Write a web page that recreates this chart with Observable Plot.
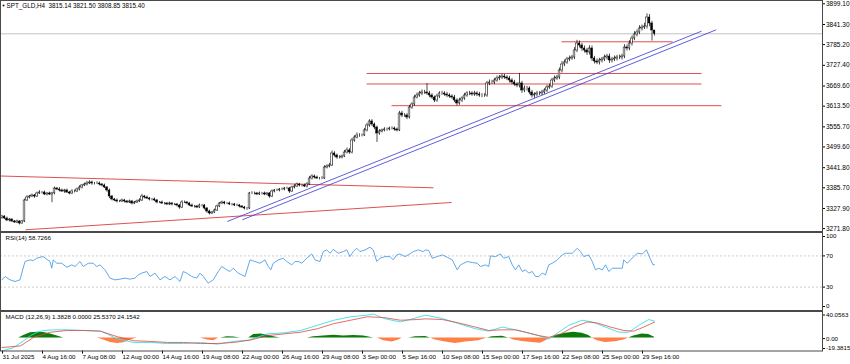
<!DOCTYPE html>
<html><head><meta charset="utf-8">
<script src="https://cdn.jsdelivr.net/npm/d3@7"></script>
<script src="https://cdn.jsdelivr.net/npm/@observablehq/plot@0.6"></script>
<style>
body{margin:0;background:#fff;}
#chart{position:relative;width:850px;height:364px;overflow:hidden;background:#fff;}
#chart svg{position:absolute;left:0;overflow:visible;}
</style></head><body><div id="chart"></div>
<script>
// ---- data: H4 closes, bar 0 = 31 Jul 2025 00:00 ----
const closes = [
3305.6,3300.0,3294.5,3297.2,3291.7,3288.9,3291.7,3286.1,3291.7,3350.3,
3358.6,3361.4,3364.2,3361.4,3369.8,3372.6,3372.6,3367.0,3369.8,3367.0,
3370.0,3383.7,3380.9,3378.2,3375.4,3378.2,3372.6,3369.8,3375.4,3375.4,
3380.9,3386.5,3392.1,3394.9,3397.7,3400.5,3397.7,3397.7,3397.7,3394.9,
3392.1,3386.5,3378.2,3361.4,3353.1,3350.3,3347.5,3347.5,3350.3,3347.5,
3344.7,3347.5,3341.9,3344.7,3347.5,3350.3,3361.4,3358.6,3355.8,3353.1,
3353.1,3350.3,3344.7,3344.7,3341.9,3341.9,3339.1,3341.9,3339.1,3339.1,
3336.3,3330.7,3344.7,3344.7,3341.9,3336.3,3333.5,3333.5,3330.7,3336.3,
3336.3,3327.9,3319.6,3314.0,3316.8,3322.4,3333.5,3341.9,3344.7,3341.9,
3341.9,3339.1,3339.1,3336.3,3336.3,3333.5,3330.7,3327.9,3327.9,3369.8,
3369.8,3369.8,3367.0,3369.8,3369.8,3367.0,3369.8,3361.4,3375.4,3378.2,
3378.2,3380.9,3380.9,3383.7,3383.7,3375.4,3386.5,3389.3,3394.9,3392.1,
3392.1,3389.3,3394.9,3411.6,3417.2,3414.4,3411.6,3411.6,3411.6,3442.3,
3445.1,3447.9,3481.4,3475.8,3470.2,3470.2,3473.0,3484.2,3489.8,3484.2,
3517.7,3526.0,3531.6,3531.6,3531.6,3545.6,3559.5,3570.7,3562.3,3553.9,
3537.2,3542.8,3545.6,3548.4,3548.4,3551.1,3551.1,3548.4,3545.6,3593.0,
3587.4,3587.4,3581.8,3609.7,3618.1,3637.6,3643.2,3648.8,3651.6,3651.6,
3648.8,3643.2,3637.6,3629.3,3640.4,3648.8,3648.8,3646.0,3643.2,3640.4,
3637.6,3629.3,3620.9,3629.3,3634.8,3643.2,3648.8,3648.8,3646.0,3648.8,
3646.0,3643.2,3643.2,3643.2,3676.7,3679.5,3679.5,3685.1,3690.6,3693.4,
3696.2,3693.4,3690.6,3685.1,3679.5,3673.9,3671.1,3676.7,3657.2,3662.7,
3662.7,3651.6,3643.2,3646.0,3648.8,3648.8,3651.6,3657.2,3665.5,3668.3,
3685.1,3690.6,3693.4,3713.0,3729.7,3735.3,3743.6,3746.4,3749.2,3768.8,
3788.3,3782.7,3774.3,3768.8,3763.2,3774.3,3746.4,3738.1,3735.3,3740.9,
3743.6,3749.2,3752.0,3740.9,3743.6,3746.4,3749.2,3749.2,3752.0,3777.1,
3774.3,3788.3,3802.2,3813.4,3819.0,3830.1,3832.9,3835.7,3860.8,3844.1,
3824.6,3815.4
];
const firstOpen = 3302.0;
// wick lengths (USD) above the body top and below the body bottom, per bar
const upperWicks = [
3,2,4,3,2,3,4,2,3,4, 5,3,4,3,4,5,3,4,3,4, 3,4,3,5,4,3,4,3,5,4, 4,5,3,4,6,5,4,3,5,4,
3,4,3,4,3,3,4,3,4,3, 3,4,3,3,4,5,6,3,4,3, 3,4,3,3,4,3,3,4,3,3, 3,3,5,4,3,3,4,3,3,4,
3,3,3,4,3,4,4,3,4,3, 3,4,3,3,4,3,3,3,3,3, 5,4,3,4,3,4,3,3,4,3, 4,3,4,3,4,3,4,5,4,3,
3,4,5,6,5,4,4,3,5,5, 5,6,7,5,4,5,4,6,7,5, 6,5,7,5,4,6,6,5,5,4, 4,5,4,5,4,4,5,4,4,6,
6,5,5,6,5,6,7,6,7,6, 25,6,5,4,6,5,6,5,6,5, 5,6,5,6,5,6,5,6,5,6, 5,6,5,5,6,7,6,6,7,6,
7,6,5,6,5,6,5,28,6,7, 6,5,6,5,6,5,6,5,6,7, 6,7,6,7,8,7,6,7,6,8, 9,7,6,7,6,8,7,6,7,6,
6,7,6,7,6,7,6,7,6,8, 7,8,7,8,7,8,7,9,10,8, 6,0
];
const lowerWicks = [
4,3,3,4,3,2,3,4,2,3, 3,4,3,5,3,3,4,3,4,3, 23,4,3,4,3,5,3,4,3,4, 3,4,4,3,4,3,5,4,3,4,
4,3,5,6,4,3,4,3,3,4, 3,3,4,3,3,3,3,4,3,4, 4,3,4,3,3,4,3,3,4,3, 4,5,3,3,4,3,3,4,3,3,
4,4,5,4,3,3,3,3,3,4, 3,3,4,3,3,4,3,4,5,3, 3,4,3,3,4,3,4,5,3,4, 3,4,3,4,3,5,3,4,3,4,
4,3,4,3,4,4,3,4,3,3, 4,4,3,5,5,4,4,3,4,5, 4,5,4,5,4,3,4,5,6,6, 25,5,4,4,5,4,4,5,4,3,
6,5,6,4,5,5,4,5,6,5, 5,6,5,6,5,6,5,5,6,5, 5,6,7,5,6,5,5,6,5,5, 6,5,6,5,5,6,5,6,5,6,
6,5,6,7,6,5,6,7,8,6, 7,6,7,8,7,6,6,5,6,5, 5,6,5,6,7,6,5,6,5,6, 6,7,8,7,8,7,8,7,6,7,
7,6,7,8,7,6,7,6,7,6, 7,6,7,6,7,6,7,6,7,9, 29.6,6.5
];

const priceTicks = [3899.10,3841.30,3785.20,3727.40,3669.60,3613.50,3555.70,3499.60,3441.80,3385.70,3327.90,3271.80];
const lastPrice = 3815.40;
const titleText = "SPT_GLD,H4  3815.14 3821.50 3808.85 3815.40";

// trend lines: [bar1, price1, bar2, price2]
const redLines = [
  [-0.6,3418.6,172.6,3385.7],
  [9.4,3268.5,179.8,3344.7],
  [145.8,3704.6,279.8,3704.6],
  [145.8,3675.3,279.8,3675.3],
  [155.8,3614.8,287.8,3614.8],
  [223.8,3793.0,268.2,3793.0]
];
const blueLines = [
  [90.1,3291.7,279.8,3822.6],
  [96.1,3296.4,285.7,3826.5]
];

// RSI(14): [bar, value]
const rsiPts = [
[0,39.3],[1.2,43.6],[3.2,39.3],[5.2,37.2],[7.2,39.3],[7.9,47.9],[9.2,62.8],[11.2,64.9],[12.5,64.0],[13.9,67.0],
[15.2,68.3],[16.5,69.1],[17.9,65.7],[19.2,62.8],[19.9,54.2],[20.5,64.9],[21.9,60.6],[23.9,60.6],[25.9,55.5],[27.9,58.5],
[29.2,56.4],[31.2,62.8],[32.5,56.4],[34.5,60.6],[36.5,60.6],[37.9,56.4],[39.2,58.5],[41.2,52.1],[43.2,41.5],[45.2,39.3],
[47.2,40.2],[49.2,41.5],[51.2,40.2],[53.2,41.5],[54.5,45.7],[55.9,47.9],[57.9,50.0],[59.2,43.6],[61.2,47.9],[63.2,39.3],
[65.2,43.6],[67.2,39.3],[69.2,43.6],[71.2,37.2],[72.5,50.0],[73.9,47.9],[75.9,43.6],[77.9,41.5],[79.2,47.9],[80.5,43.6],
[82.5,35.1],[84.5,39.3],[86.5,50.0],[87.9,56.4],[89.9,52.1],[91.2,50.0],[92.5,54.2],[94.5,47.9],[95.9,45.7],[97.2,43.6],
[99.2,64.9],[101.2,62.8],[103.2,60.6],[105.2,64.9],[106.5,56.4],[107.5,52.1],[108.5,60.6],[110.5,64.9],[112.5,67.0],[113.9,62.8],
[115.9,58.5],[117.2,62.8],[118.5,62.8],[119.9,60.6],[121.9,67.0],[123.9,72.5],[125.2,64.9],[127.2,62.8],[128.5,75.5],[129.9,77.7],
[131.2,73.4],[132.5,78.5],[134.5,73.4],[136.5,75.5],[137.9,77.7],[139.2,69.1],[140.5,75.5],[141.9,79.8],[143.2,75.5],[145.2,77.7],
[147.2,81.1],[148.5,77.7],[149.9,62.8],[151.2,67.0],[153.2,69.1],[155.2,69.1],[156.5,64.9],[157.9,71.3],[159.2,72.5],[161.2,69.1],
[162.5,71.3],[164.5,75.5],[166.5,77.7],[168.5,75.5],[169.4,77.7],[170.7,76.8],[172.1,67.0],[174.1,69.1],[176.1,71.3],[178.1,68.3],
[180.1,64.9],[182.1,52.1],[183.4,58.5],[184.7,60.6],[186.1,62.8],[188.1,61.5],[190.1,60.6],[191.4,56.4],[193.4,58.5],[194.7,56.4],
[195.4,70.0],[197.4,69.1],[199.4,72.5],[200.7,67.0],[202.7,69.1],[204.1,58.5],[205.4,52.1],[206.7,58.5],[208.1,50.0],[209.4,52.1],
[210.7,47.9],[212.1,50.0],[213.4,43.6],[214.7,43.6],[216.1,47.9],[217.4,45.7],[218.7,58.5],[220.1,60.6],[222.1,64.9],[224.1,71.3],
[225.4,73.4],[228.1,73.4],[230.1,79.8],[231.4,75.5],[232.7,69.1],[234.7,71.3],[236.1,62.8],[237.4,52.1],[238.7,54.2],[240.1,52.1],
[241.4,58.5],[242.7,50.0],[244.1,54.2],[246.1,54.2],[248.1,54.2],[248.7,64.9],[250.1,60.6],[251.4,64.9],[252.7,69.1],[254.1,73.4],
[256.1,72.5],[257.8,77.7],[259.2,67.0],[260.4,58.5],[261,58.7266]
];
const rsiLabel = "RSI(14) 58.7266";
const rsiTicks = [100,70,30,0];
const rsiLevels = [70,30];

// MACD(12,26,9): [bar, value]
const macdMain = [
[0,-19.4],[4.7,-14.2],[8.7,-3.9],[11.4,3.8],[14.1,8.9],[16.7,11.5],[20.7,12.5],[26.1,12.5],[32.7,11.5],[39.4,10.5],
[42.1,6.3],[46.1,-1.4],[52.7,-6.5],[59.4,-6.5],[66.1,-8.1],[72.7,-8.1],[79.4,-6.5],[86.1,-9.1],[92.7,-5.0],[98.7,-2.9],
[106.1,6.3],[112.7,7.9],[119.4,11.5],[126.1,19.2],[132.7,26.9],[139.4,32.1],[146.1,34.6],[148.7,36.2],[152.7,29.5],[159.4,24.3],
[166.1,31.0],[169.4,34.6],[176.1,29.5],[182.7,21.8],[189.4,14.1],[194.7,10.5],[200.1,16.6],[205.4,12.5],[209.4,8.9],[214.7,3.8],
[218.7,-1.4],[222.7,8.9],[226.7,19.2],[232.1,26.9],[236.1,24.3],[241.4,16.6],[246.7,8.9],[250.7,8.9],[254.7,19.2],[258.7,28.0],
[261,25.537]
];
const macdSignal = [
[0,-14.2],[7.4,-11.7],[12.7,1.2],[19.4,8.9],[26.1,11.5],[32.7,11.5],[39.4,10.5],[46.1,2.2],[52.7,-3.9],[59.4,-5.0],
[66.1,-6.5],[72.7,-6.5],[79.4,-8.1],[86.1,-8.1],[92.7,-6.5],[99.4,-2.9],[106.1,3.8],[112.7,6.3],[119.4,8.9],[126.1,14.1],
[132.7,21.8],[139.4,26.9],[146.1,32.1],[152.7,31.0],[159.4,26.9],[166.1,28.0],[169.4,29.0],[176.1,28.0],[182.7,22.8],[189.4,16.6],
[194.7,11.5],[200.1,12.5],[205.4,12.5],[209.4,8.9],[214.7,3.8],[218.7,1.2],[223.4,6.3],[228.7,16.6],[234.1,24.3],[238.1,22.8],
[243.4,16.6],[248.7,11.5],[252.7,10.5],[256.7,16.6],[261,24.1542]
];
const macdHist = [
[0,0],[6.7,0],[8.7,3.8],[11.4,7.9],[14.1,8.9],[16.7,8.4],[19.4,6.3],[22.1,3.2],[24.7,0],
[38.1,0],[40.7,-2.9],[43.4,-6.5],[46.1,-8.1],[48.7,-7.1],[51.4,-2.9],[54.1,0],
[79.4,0],[82.1,-2.9],[84.7,-3.9],[86.7,0],[87.4,0],[90.1,2.2],[92.7,1.7],[95.4,0],
[98.7,0],[100.7,5.3],[103.4,6.3],[106.1,4.8],[108.7,2.2],[111.4,0],
[122.1,0],[124.7,2.2],[128.7,3.2],[132.7,4.3],[136.7,3.2],[140.7,3.8],[144.7,3.2],[148.7,0],
[150.1,0],[152.7,-3.9],[156.1,-6.0],[158.7,-2.9],[160.1,0],
[162.7,0],[165.4,2.2],[169.4,2.4],[171.4,0],
[173.4,-2.9],[177.4,-6.0],[181.4,-8.1],[185.4,-6.0],[190.7,-3.9],[194.1,0],
[196.1,2.2],[200.1,2.7],[202.7,0],
[204.7,-2.9],[208.1,-5.0],[212.1,-6.5],[215.4,-7.6],[218.1,-2.9],[219.4,0],
[222.1,4.3],[225.4,7.4],[228.7,8.9],[232.1,7.4],[234.7,3.8],[236.1,0],
[238.1,-3.9],[241.4,-6.5],[245.4,-5.5],[248.7,-2.9],[250.7,0],
[252.7,3.2],[256.1,6.3],[258.7,5.3],[261,1.3828]
];
const macdLabel = "MACD (12,26,9) 1.3828 0.0000 25.5370 24.1542";
const macdTicks = [40.0563, 0, -19.3815];

// time axis
const timeTickBars = [0,16,32,48,64,80,96,112,128,144,160,176,192,208,224,240,256];
const timeTickLabels = ["31 Jul 2025","4 Aug 16:00","7 Aug 08:00","12 Aug 00:00","14 Aug 16:00","19 Aug 08:00","22 Aug 00:00","26 Aug 16:00","29 Aug 08:00","3 Sep 00:00","5 Sep 16:00","10 Sep 08:00","15 Sep 00:00","17 Sep 16:00","22 Sep 08:00","25 Sep 00:00","29 Sep 16:00"];

// ---- build ----
const candles = closes.map((c, i) => {
  const o = i === 0 ? firstOpen : closes[i - 1];
  return {i, o, c, h: Math.max(o, c) + upperWicks[i], l: Math.min(o, c) - lowerWicks[i]};
});
const seg = a => ({b1: a[0], p1: a[1], b2: a[2], p2: a[3]});
const pt = a => ({b: a[0], v: a[1]});
const labelOf = new Map(timeTickBars.map((b, k) => [b, timeTickLabels[k]]));

const xDomain = [-0.6, 328.2];
const FONT = "'Liberation Sans', Arial, sans-serif";
const FRAME = "#4a4a4a";
const chart = document.getElementById("chart");
function place(svg, top) { svg.style.top = top + "px"; chart.appendChild(svg); return svg; }
const ax = {anchor: "right", tickSize: 2, tickPadding: 1.5, label: null};

const main = Plot.plot({
  width: 850, height: 231, marginLeft: 0, marginRight: 28, marginTop: 0, marginBottom: 0,
  style: {fontFamily: FONT, fontSize: "6.5px", background: "transparent", overflow: "visible", color: "#000"},
  x: {domain: xDomain, axis: null},
  y: {domain: [3263.77, 3908.26], axis: null},
  marks: [
    Plot.ruleY([lastPrice], {stroke: "#c4c4c4", strokeWidth: 1}),
    Plot.link(redLines.map(seg), {x1: "b1", y1: "p1", x2: "b2", y2: "p2", stroke: "#dc3c3c", strokeWidth: 0.9}),
    Plot.link(blueLines.map(seg), {x1: "b1", y1: "p1", x2: "b2", y2: "p2", stroke: "#3636d2", strokeWidth: 0.8}),
    Plot.ruleX(candles, {x: "i", y1: "l", y2: "h", stroke: "#000", strokeWidth: 0.7}),
    Plot.rect(candles, {x1: d => d.i - 0.34, x2: d => d.i + 0.34, y1: "o", y2: "c",
      fill: d => d.c >= d.o ? "#fff" : "#000", stroke: "#000", strokeWidth: 0.5}),
    Plot.axisY(priceTicks, {...ax, tickFormat: d => d.toFixed(2)}),
    Plot.text([lastPrice], {y: d => d, frameAnchor: "right", textAnchor: "start", dx: 3.5, text: d => d.toFixed(2),
      fill: "#fff", ariaLabel: "pricetag"}),
    Plot.text([titleText], {frameAnchor: "top-left", dx: 6, dy: 3, fontSize: 6.3, fill: "#000"}),
    Plot.text(["▼"], {frameAnchor: "top-left", dx: 1, dy: 4, fontSize: 4, fill: "#000"}),
    Plot.frame({stroke: FRAME, strokeWidth: 1})
  ]
});
place(main, 0);

const rsi = Plot.plot({
  width: 850, height: 80, marginLeft: 0, marginRight: 28, marginTop: 1, marginBottom: 1,
  style: {fontFamily: FONT, fontSize: "6.2px", background: "transparent", overflow: "visible", color: "#000"},
  x: {domain: xDomain, axis: null},
  y: {domain: [0, 100], axis: null},
  marks: [
    Plot.ruleY(rsiLevels, {stroke: "#b8b8b8", strokeWidth: 0.7, strokeDasharray: "2,2"}),
    Plot.line(rsiPts.map(pt), {x: "b", y: "v", stroke: "#4f9ee6", strokeWidth: 0.9}),
    Plot.axisY(rsiTicks.filter(d => d > 0 && d < 100), ax),
    Plot.axisY([rsiTicks[0]], {...ax, dy: 4}),
    Plot.axisY([rsiTicks[3]], {...ax, dy: -4}),
    Plot.text([rsiLabel], {frameAnchor: "top-left", dx: 5, dy: 3, fill: "#000"}),
    Plot.frame({stroke: FRAME, strokeWidth: 1})
  ]
});
place(rsi, 231);

const macd = Plot.plot({
  width: 850, height: 53, marginLeft: 0, marginRight: 28, marginTop: 0, marginBottom: 13.5,
  style: {fontFamily: FONT, fontSize: "6.2px", background: "transparent", overflow: "visible", color: "#000"},
  x: {domain: xDomain, axis: null},
  y: {domain: [-19.3815, 40.0563], axis: null},
  marks: [
    Plot.areaY(macdHist.map(pt), {x: "b", y: d => Math.max(0, d.v), fill: "#0b7a0b"}),
    Plot.areaY(macdHist.map(pt), {x: "b", y: d => Math.min(0, d.v), fill: "#ff7f45"}),
    Plot.line(macdMain.map(pt), {x: "b", y: "v", stroke: "#34e0ea", strokeWidth: 0.9}),
    Plot.line(macdSignal.map(pt), {x: "b", y: "v", stroke: "#e0463e", strokeWidth: 0.8}),
    Plot.axisY([macdTicks[0]], {...ax, dy: 3.5, tickFormat: d => d.toFixed(4)}),
    Plot.axisY([macdTicks[1]], {...ax, dy: 0.5, tickFormat: d => d.toFixed(2)}),
    Plot.axisY([macdTicks[2]], {...ax, dy: -2.5, tickFormat: d => d.toFixed(4)}),
    Plot.axisX(timeTickBars, {anchor: "bottom", tickSize: 3, tickPadding: 0.5, textAnchor: "start", dx: 0.5,
      label: null, tickFormat: d => labelOf.get(d)}),
    Plot.text([macdLabel], {frameAnchor: "top-left", dx: 5, dy: 3, fill: "#000"}),
    Plot.frame({stroke: FRAME, strokeWidth: 1})
  ]
});
place(macd, 311);

// black box behind the live price tag
const tag = main.querySelector('[aria-label="pricetag"] text');
if (tag) {
  const bb = tag.getBBox();
  const r = document.createElementNS("http://www.w3.org/2000/svg", "rect");
  r.setAttribute("x", bb.x - 1); r.setAttribute("y", bb.y - 0.5);
  r.setAttribute("width", bb.width + 2); r.setAttribute("height", bb.height + 1);
  r.setAttribute("fill", "#000");
  if (tag.getAttribute("transform")) r.setAttribute("transform", tag.getAttribute("transform"));
  tag.parentNode.insertBefore(r, tag);
}
</script></body></html>
